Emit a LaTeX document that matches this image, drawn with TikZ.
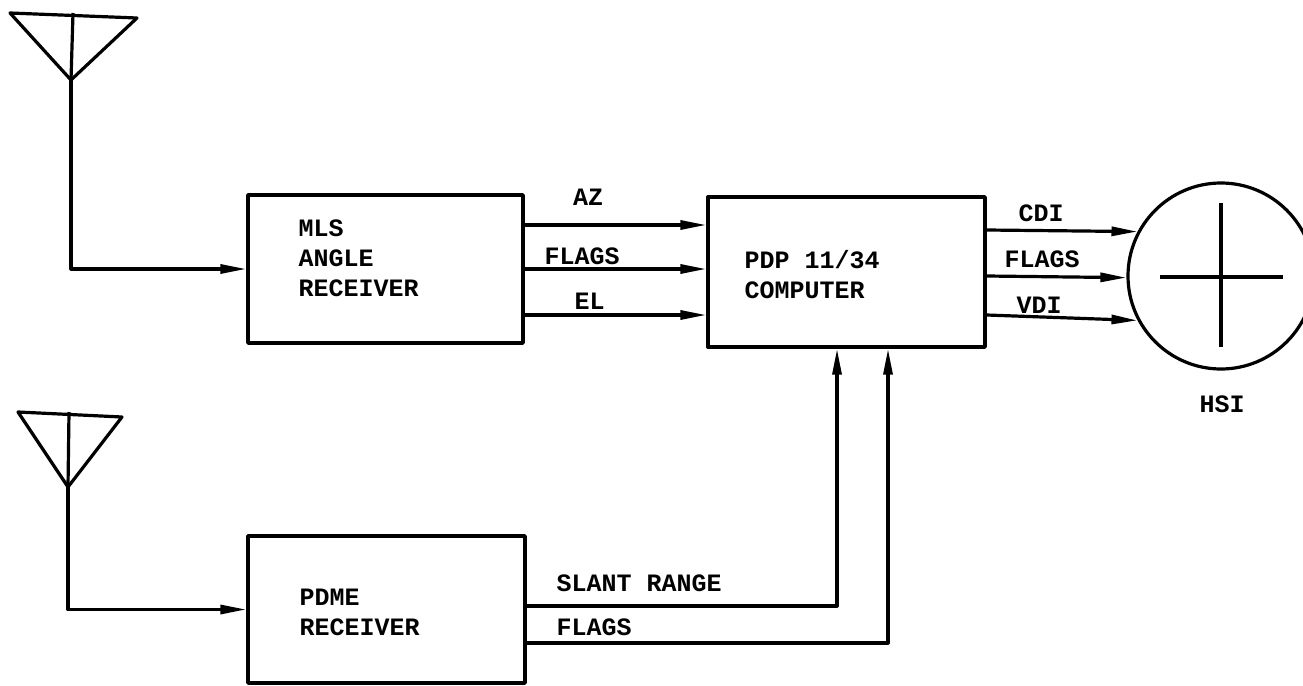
\documentclass[tikz,border=0pt]{standalone}
\usepackage{fontspec}
\setmonofont{Liberation Mono}
\usetikzlibrary{arrows.meta}
\begin{document}
\begin{tikzpicture}[x=1pt,y=-1pt,
  every path/.style={line width=3.2pt, line join=round},
  blk/.style={draw, line width=3.4pt, rectangle, inner sep=0pt},
  lbl/.style={font=\ttfamily\bfseries\fontsize{25}{30}\selectfont, inner sep=0pt, align=left},
  arr/.style={-{Triangle[length=26pt,width=9pt]}}]
\useasboundingbox (0,0) rectangle (1303,685);
% boxes
\node[blk, minimum width=275pt, minimum height=148pt] (mls) at (385.5,269) {};
\node[blk, minimum width=277pt, minimum height=150pt] (pdp) at (846.5,272) {};
\node[blk, minimum width=277pt, minimum height=147pt] (pdme) at (386.5,609.5) {};
\node[draw, circle, line width=3.2pt, minimum size=186pt, inner sep=0pt] (hsi) at (1221,276) {};
% box texts
\node[lbl, anchor=west] (mlst) at (297,258) {MLS\\ANGLE\\RECEIVER};
\node[lbl, anchor=west] (pdpt) at (743,275) {PDP 11/34\\COMPUTER};
\node[lbl, anchor=west] (pdmet) at (298,612.5) {PDME\\RECEIVER};
\node[lbl] (hsit) at (1222,404) {HSI};
% antennas
\coordinate (ap1) at (71,80);
\draw (10,13) -- (137,18) -- (ap1) -- cycle;
\draw (73,13) -- (ap1);
\coordinate (ap2) at (68,487);
\draw (18,412) -- (122,417) -- (ap2) -- cycle;
\draw (69,412) -- (ap2);
\draw[arr] (ap1) |- (mls.west);
\draw[arr] (ap2) |- (pdme.west);
% MLS -> PDP
\draw[arr] ([yshift=44pt]mls.east) -- ([yshift=44pt]mls.east -| pdp.west);
\draw[arr] (mls.east) -- (mls.east -| pdp.west);
\draw[arr] ([yshift=-46pt]mls.east) -- ([yshift=-46pt]mls.east -| pdp.west);
\node[lbl] (az) at (588,197) {AZ};
\node[lbl, anchor=west] (fl1) at (543,256) {FLAGS};
\node[lbl, anchor=west] (el) at (573,301) {EL};
% PDP -> HSI
\draw[arr] ([yshift=42pt]pdp.east) -- (hsi.152);
\draw[arr] ([yshift=-4pt]pdp.east) -- (hsi.181);
\draw[arr] ([yshift=-43pt]pdp.east) -- (hsi.208);
\node[lbl, anchor=west] (cdi) at (1017,213) {CDI};
\node[lbl, anchor=west] (fl2) at (1003,259) {FLAGS};
\node[lbl, anchor=west] (vdi) at (1015,305) {VDI};
% HSI cross
\draw (hsi.center) ++(0,-73) -- ++(0,144);
\draw (hsi.center) ++(-61,1) -- ++(123,0);
% PDME -> PDP
\draw[arr] ([yshift=3.5pt]pdme.east) -| ([xshift=-9.5pt]pdp.south);
\draw[arr] ([yshift=-33.5pt]pdme.east) -| ([xshift=41.5pt]pdp.south);
\node[lbl, anchor=west] (sr) at (555,583) {SLANT RANGE};
\node[lbl, anchor=west] (fl3) at (555,627) {FLAGS};
\end{tikzpicture}
\end{document}
